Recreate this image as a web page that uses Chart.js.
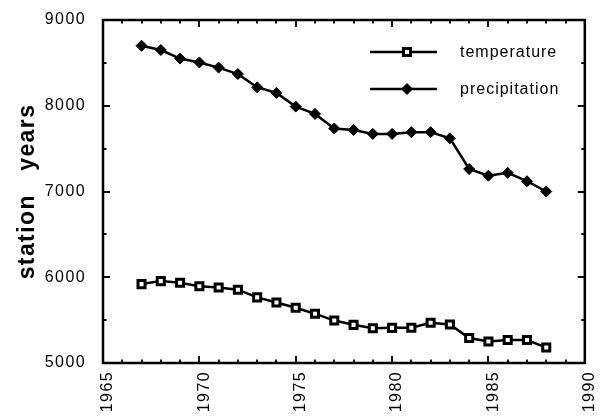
<!DOCTYPE html>
<html><head><meta charset="utf-8">
<script src="https://cdn.jsdelivr.net/npm/chart.js@4/dist/chart.umd.min.js"></script>
<style>html,body{margin:0;padding:0;background:#fff}#wrap{width:604px;height:420px}</style>
</head><body><div id="wrap"><canvas id="c" width="604" height="420"></canvas></div>
<script>
const years = [1967,1968,1969,1970,1971,1972,1973,1974,1975,1976,1977,1978,1979,1980,1981,1982,1983,1984,1985,1986,1987,1988];
const temperature = [5920,5955,5935,5895,5880,5855,5765,5705,5645,5575,5495,5445,5405,5410,5412,5470,5450,5292,5250,5268,5268,5180];
const precipitation = [8700,8650,8550,8505,8445,8370,8215,8150,7990,7905,7735,7718,7672,7672,7692,7692,7620,7262,7185,7218,7120,7000];
const seriesNames = ['temperature','precipitation'];
const xTickValues = [1965,1970,1975,1980,1985,1990];
const yTickValues = [5000,6000,7000,8000,9000];
const yAxisTitle = 'station   years';

const FONT = "'Liberation Sans', Arial, Helvetica, sans-serif";

const framePlugin = {
  id: 'frameTicks',
  beforeDraw(chart) { chart.ctx.letterSpacing = '1.4px'; },
  afterDraw(chart) {
    const ctx = chart.ctx, a = chart.chartArea;
    const xs = chart.scales.x, ys = chart.scales.y;
    ctx.save();
    ctx.letterSpacing = '0px';
    ctx.strokeStyle = '#000';
    ctx.lineWidth = 2.5;
    ctx.strokeRect(a.left, a.top, a.right - a.left, a.bottom - a.top);
    ctx.lineWidth = 1.8;
    ctx.beginPath();
    for (let v = xs.min; v <= xs.max; v += 1) {
      const px = Math.round(xs.getPixelForValue(v));
      const len = (v % 5 === 0) ? 7 : 3.5;
      ctx.moveTo(px, a.bottom); ctx.lineTo(px, a.bottom - len);
      ctx.moveTo(px, a.top); ctx.lineTo(px, a.top + len);
    }
    for (let v = ys.min; v <= ys.max; v += 500) {
      const py = Math.round(ys.getPixelForValue(v));
      const len = (v % 1000 === 0) ? 7 : 3.5;
      ctx.moveTo(a.left, py); ctx.lineTo(a.left + len, py);
      ctx.moveTo(a.right, py); ctx.lineTo(a.right - len, py);
    }
    ctx.stroke();

    // legend
    const legendY = [52, 89];
    chart.data.datasets.forEach((ds, i) => {
      const y = legendY[i];
      ctx.strokeStyle = ds.borderColor;
      ctx.lineWidth = ds.borderWidth;
      ctx.beginPath(); ctx.moveTo(370, y); ctx.lineTo(437, y); ctx.stroke();
      ctx.fillStyle = ds.pointBackgroundColor;
      ctx.strokeStyle = ds.pointBorderColor;
      ctx.lineWidth = ds.pointBorderWidth;
      Chart.helpers.drawPoint(ctx, {pointStyle: ds.pointStyle, radius: ds.pointRadius, borderWidth: ds.pointBorderWidth, rotation: 0}, 407, y);
      ctx.fillStyle = '#000';
      ctx.font = '16px ' + FONT;
      ctx.letterSpacing = '1px';
      ctx.textBaseline = 'middle';
      ctx.textAlign = 'left';
      ctx.fillText(ds.label, 460, y + 1);
      ctx.letterSpacing = '0px';
    });
    ctx.restore();
    ctx.letterSpacing = '0px';
  }
};

new Chart(document.getElementById('c'), {
  type: 'line',
  data: {
    datasets: [
      {
        label: seriesNames[0],
        data: years.map((x, i) => ({x, y: temperature[i]})),
        borderColor: '#000', borderWidth: 2.5,
        pointStyle: 'rect', pointRadius: 5,
        pointBackgroundColor: '#fff', pointBorderColor: '#000', pointBorderWidth: 3,
        tension: 0
      },
      {
        label: seriesNames[1],
        data: years.map((x, i) => ({x, y: precipitation[i]})),
        borderColor: '#000', borderWidth: 2.5,
        pointStyle: 'rectRot', pointRadius: 5.5,
        pointBackgroundColor: '#000', pointBorderColor: '#000', pointBorderWidth: 1,
        tension: 0
      }
    ]
  },
  options: {
    responsive: false,
    animation: false,
    devicePixelRatio: 1,
    layout: {padding: {top: 20, right: 14, bottom: 0, left: 0}},
    plugins: {legend: {display: false}, tooltip: {enabled: false}},
    scales: {
      x: {
        type: 'linear', min: 1965, max: 1990,
        afterBuildTicks: s => { s.ticks = xTickValues.map(v => ({value: v})); },
        afterFit: s => { s.height = 57; },
        grid: {display: false},
        border: {display: false},
        ticks: {
          minRotation: 90, maxRotation: 90, padding: 0, labelOffset: 5,
          color: '#000', font: {family: FONT, size: 16},
          callback: v => String(v)
        }
      },
      y: {
        type: 'linear', min: 5000, max: 9000,
        afterBuildTicks: s => { s.ticks = yTickValues.map(v => ({value: v})); },
        afterFit: s => { s.width = 103; },
        grid: {display: false},
        border: {display: false},
        ticks: {
          padding: 9, color: '#000', font: {family: FONT, size: 16},
          callback: v => String(v)
        },
        title: {
          display: true, text: yAxisTitle, color: '#000',
          font: {family: FONT, size: 23, weight: 'bold'},
          padding: {top: 14, bottom: 0}
        }
      }
    }
  },
  plugins: [framePlugin]
});
</script></body></html>
